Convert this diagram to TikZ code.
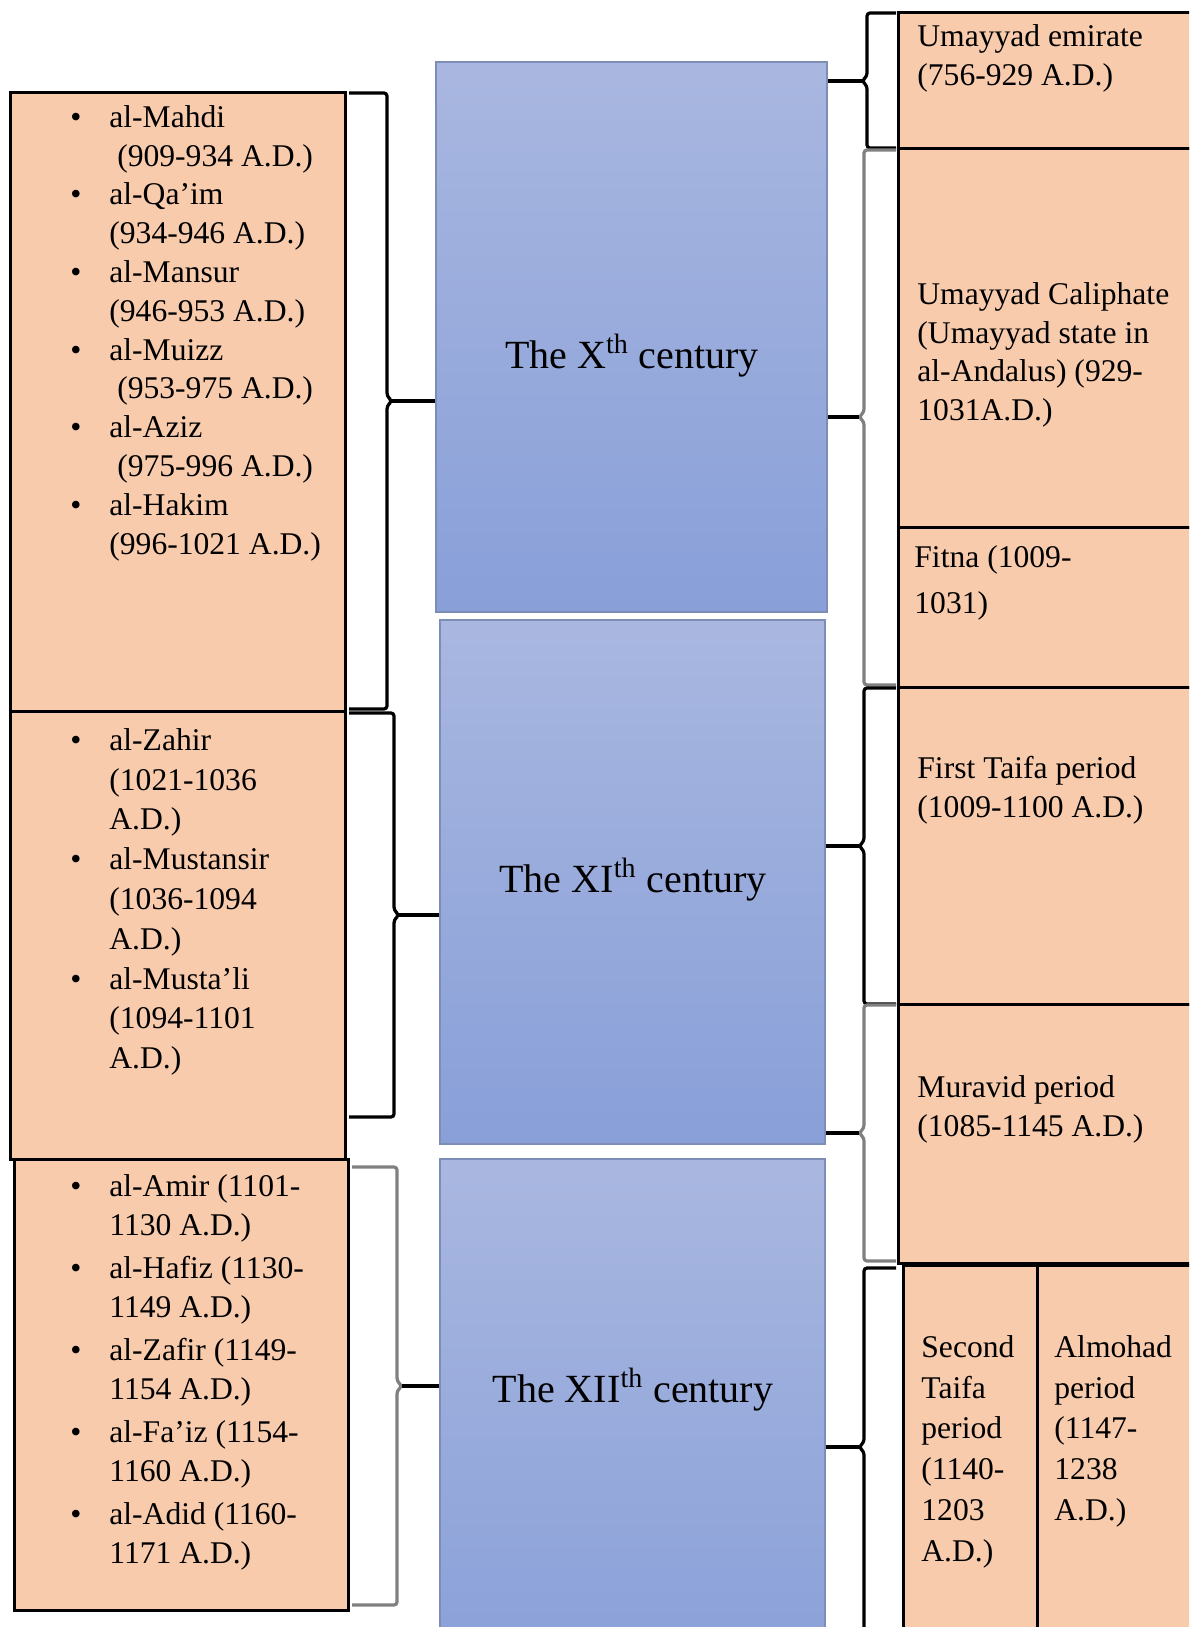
\documentclass[tikz,border=0pt]{standalone}
\usepackage{fontspec}
\setmainfont{Liberation Serif}
\usetikzlibrary{fit}
\definecolor{peach}{HTML}{F8CBAD}
\definecolor{bluetop}{HTML}{A9B7E0}
\definecolor{bluebot}{HTML}{889FD8}
\definecolor{blueline}{HTML}{7E8DB6}
\definecolor{brkgray}{HTML}{808080}
\newcommand{\itm}{\makebox[19.5pt][l]{\textbullet}}
\newcommand{\cnt}{\hspace*{19.5pt}}

\begin{document}
\begin{tikzpicture}[x=0.5pt,y=-0.5pt,
  pbox/.style={draw=black,line width=1.5pt,fill=peach,inner sep=0pt},
  cbox/.style={draw=blueline,line width=1pt,top color=bluetop,bottom color=bluebot,inner sep=0pt},
  brk/.style={line width=1.6pt,rounded corners=1.5pt},
  tip/.style={line width=1.6pt},
  txt/.style={font=\fontsize{15.8}{19.4}\selectfont,align=left,inner sep=0pt,anchor=north west},
  ctxt/.style={font=\fontsize{20}{24}\selectfont,inner sep=0pt}]
  \useasboundingbox (0,0) rectangle (1189,1627);
  \clip (0,0) rectangle (1189,1627);

  \node[cbox,fit={(436,62) (827,612)}] (c10) {};
  \node[cbox,fit={(440,620) (825,1144)}] (c11) {};
  \node[cbox,fit={(440,1159) (825,1690)}] (c12) {};
  \node[ctxt] at (632,356) {The X\textsuperscript{th} century};
  \node[ctxt] at (633,880) {The XI\textsuperscript{th} century};
  \node[ctxt] at (633,1390) {The XII\textsuperscript{th} century};

  \node[pbox,fit={(10,93) (345,711)}] (f10) {};
  \node[pbox,fit={(10,711) (345,1159)}] (f11) {};
  \node[pbox,fit={(14,1159) (348,1610)}] (f12) {};
  \node[txt] (tf10) at (70,105) {\itm al-Mahdi\\
    \cnt\ (909-934 A.D.)\\
    \itm al-Qa’im\\
    \cnt(934-946 A.D.)\\
    \itm al-Mansur\\
    \cnt(946-953 A.D.)\\
    \itm al-Muizz\\
    \cnt\ (953-975 A.D.)\\
    \itm al-Aziz\\
    \cnt\ (975-996 A.D.)\\
    \itm al-Hakim\\
    \cnt(996-1021 A.D.)};
  \node[txt,font=\fontsize{15.8}{19.9}\selectfont] (tf11) at (70,728) {\itm al-Zahir\\
    \cnt(1021-1036\\
    \cnt A.D.)\\
    \itm al-Mustansir\\
    \cnt(1036-1094\\
    \cnt A.D.)\\
    \itm al-Musta’li\\
    \cnt(1094-1101\\
    \cnt A.D.)};
  \node[txt] (tf12) at (70,1174) {\itm al-Amir (1101-\\
    \cnt 1130 A.D.)\\[2.2pt]
    \itm al-Hafiz (1130-\\
    \cnt 1149 A.D.)\\[2.2pt]
    \itm al-Zafir (1149-\\
    \cnt 1154 A.D.)\\[2.2pt]
    \itm al-Fa’iz (1154-\\
    \cnt 1160 A.D.)\\[2.2pt]
    \itm al-Adid (1160-\\
    \cnt 1171 A.D.)};

  \node[pbox,fit={(898,13) (1200,148)}] (emirate) {};
  \node[pbox,fit={(898,148) (1200,527)}] (caliphate) {};
  \node[pbox,fit={(898,527) (1200,687)}] (fitna) {};
  \node[pbox,fit={(898,687) (1200,1004)}] (taifa1) {};
  \node[pbox,fit={(898,1004) (1200,1263)}] (muravid) {};
  \node[pbox,fit={(903,1265) (1037,1640)}] (taifa2) {};
  \node[pbox,fit={(1037,1265) (1200,1640)}] (almohad) {};
  \node[txt] (temirate) at (917,24) {Umayyad emirate\\(756-929 A.D.)};
  \node[txt] (tcaliphate) at (917,282) {Umayyad Caliphate\\(Umayyad state in\\al-Andalus) (929-\\1031A.D.)};
  \node[txt,font=\fontsize{15.8}{23.3}\selectfont] (tfitna) at (914,545) {Fitna (1009-\\1031)};
  \node[txt] (ttaifa1) at (917,756) {First Taifa period\\(1009-1100 A.D.)};
  \node[txt] (tmuravid) at (917,1075) {Muravid period\\(1085-1145 A.D.)};
  \node[txt,font=\fontsize{15.8}{20.4}\selectfont] (ttaifa2) at (921,1335) {Second\\Taifa\\period\\(1140-\\1203\\A.D.)};
  \node[txt,font=\fontsize{15.8}{20.4}\selectfont] (talmohad) at (1054,1335) {Almohad\\period\\(1147-\\1238\\A.D.)};

  \coordinate (lb1) at (392,401);
  \coordinate (lb2) at (399,915);
  \coordinate (lb3) at (402,1386);
  \draw[brk] (349,93) -- (387,93) -- (387,396) -- (lb1) -- (387,406) -- (387,709) -- (349,709);
  \draw[brk] (349,713) -- (394,713) -- (394,910) -- (lb2) -- (394,920) -- (394,1117) -- (349,1117);
  \draw[brk,brkgray] (352,1167) -- (397,1167) -- (397,1381) -- (lb3) -- (397,1391) -- (397,1605) -- (352,1605);
  \draw[tip] (lb1) -- (c10.west |- lb1);
  \draw[tip] (lb2) -- (c11.west |- lb2);
  \draw[tip] (lb3) -- (c12.west |- lb3);

  \coordinate (rb1) at (862,81);
  \coordinate (rb2) at (859,417);
  \coordinate (rb3) at (859,846);
  \coordinate (rb4) at (859,1133);
  \coordinate (rb5) at (859,1447);
  \draw[brk] (896,13) -- (867,13) -- (867,76) -- (rb1) -- (867,86) -- (867,148) -- (896,148);
  \draw[brk,brkgray] (896,150) -- (864,150) -- (864,412) -- (rb2) -- (864,422) -- (864,685) -- (896,685);
  \draw[brk] (896,688) -- (864,688) -- (864,841) -- (rb3) -- (864,851) -- (864,1004) -- (896,1004);
  \draw[brk,brkgray] (896,1005) -- (864,1005) -- (864,1128) -- (rb4) -- (864,1138) -- (864,1261) -- (896,1261);
  \draw[brk] (896,1268) -- (864,1268) -- (864,1442) -- (rb5) -- (864,1452) -- (864,1640) -- (896,1640);
  \draw[tip] (rb1) -- (c10.east |- rb1);
  \draw[tip] (rb2) -- (c10.east |- rb2);
  \draw[tip] (rb3) -- (c11.east |- rb3);
  \draw[tip] (rb4) -- (c11.east |- rb4);
  \draw[tip] (rb5) -- (c12.east |- rb5);
\end{tikzpicture}
\end{document}
